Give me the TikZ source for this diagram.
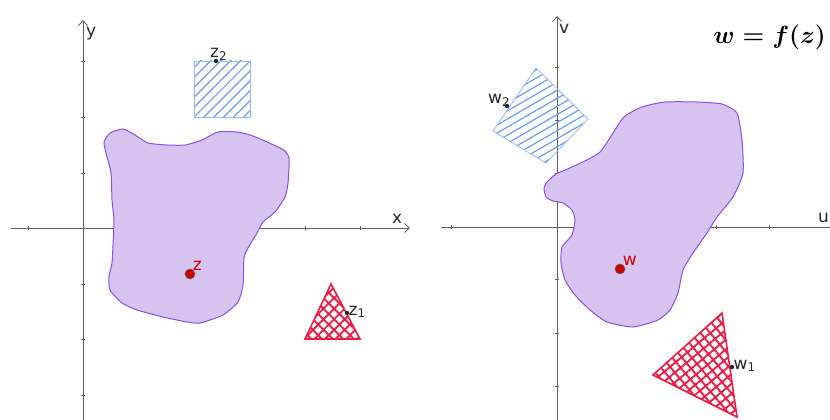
\documentclass[tikz,border=0pt]{standalone}
\usepackage{fontspec}
\usepackage{amsmath}
\setsansfont{DejaVu Sans}
\usetikzlibrary{arrows.meta,patterns.meta,positioning}

\definecolor{axisgray}{RGB}{95,95,95}
\definecolor{blobfill}{RGB}{215,195,240}
\definecolor{blobline}{RGB}{140,80,220}
\definecolor{hatchblue}{RGB}{105,155,240}
\definecolor{hatchred}{RGB}{232,30,70}
\definecolor{ptred}{RGB}{205,0,0}

\newcommand{\bigfont}{\fontsize{23}{27}\selectfont}

\begin{document}
\begin{tikzpicture}[
  x=1pt, y=-1pt,
  axis/.style={draw=axisgray, line width=0.8pt, -{Straight Barb[length=5pt,width=9pt]}},
  tick/.style={draw=axisgray, line width=0.6pt},
  region/.style={fill=blobfill, draw=blobline, line width=1pt},
  blue hatch/.style={draw=hatchblue!70, line width=0.8pt, pattern color=hatchblue,
    pattern={Lines[angle=#1, distance=7pt, line width=1.2pt]}},
  red grid/.style={draw=hatchred, line width=1.6pt, pattern color=hatchred,
    pattern={Hatch[angle=#1, distance=7.5pt, line width=1.9pt]}},
  dot/.style={circle, fill=black!85, inner sep=0pt, minimum size=4.5pt},
  bigdot/.style={circle, fill=ptred, draw=black!60, line width=0.6pt, inner sep=0pt, minimum size=10pt},
  lbl/.style={font=\sffamily\fontsize{17}{19}\selectfont, inner sep=1pt, text=black!85},
  redlbl/.style={lbl, text=ptred},
  titlelbl/.style={font=\bigfont, inner sep=0pt, anchor=east}
]
  \useasboundingbox (0,0) rectangle (830,420);

  % z-plane
  \begin{scope}[shift={(83,228)}]
    \draw[axis] (-72,0) -- (327,0);
    \draw[axis] (0,192) -- (0,-208);
    \foreach \t in {-55,56,111,167,222,277} \draw[tick] (\t,-2) -- (\t,2);
    \foreach \t in {-167,-111,-55,56,111,167} \draw[tick] (-2,\t) -- (2,\t);
    \node[lbl, anchor=west] (xlab) at (308,-9) {x};
    \node[lbl, anchor=west] (ylab) at (2,-194) {y};

    \filldraw[region] plot[smooth cycle, tension=0.35] coordinates {
      (21,-86) (27,-95) (40,-99) (52,-93) (65,-85) (84,-83) (102,-83)
      (119,-88) (135,-96) (154,-96) (170,-92) (199,-79) (206,-70)
      (205,-45) (202,-31) (192,-16) (180,-6) (174,5) (165,20) (161,30)
      (160,57) (155,74) (140,87) (117,95) (104,94) (80,89) (54,82)
      (39,75) (27,62) (26,49) (29,35) (30,17) (31,-8) (29,-28)
      (28,-55) (23,-75)};

    \draw[blue hatch=45] (111,-167) rectangle (167,-111);
    \draw[red grid=45] (248,56) -- (277,111) -- (222,111) -- cycle;

    \node[bigdot] (z) at (107,46) {};
    \node[redlbl, anchor=south west, xshift=-2pt, yshift=-1pt] (zlab) at (z.north east) {z};
    \node[dot] (z2) at (133,-167) {};
    \node[lbl, anchor=south west, xshift=-7pt, yshift=-3pt] (z2lab) at (z2.north) {z\textsubscript{2}};
    \node[dot] (z1) at (264,85) {};
    \node[lbl, anchor=south west, xshift=-2pt, yshift=-6pt] (z1lab) at (z1.east) {z\textsubscript{1}};
  \end{scope}

  % w-plane
  \begin{scope}[shift={(557,227)}]
    \draw[axis] (-116,0) -- (285,0);
    \draw[axis] (0,193) -- (0,-211);
    \foreach \t in {-106,53,106,159,212} \draw[tick] (\t,-2) -- (\t,2);
    \foreach \t in {-160,-107,-54,52,106,159} \draw[tick] (-2,\t) -- (2,\t);
    \node[lbl, anchor=east] (ulab) at (273,-9) {u};
    \node[lbl, anchor=west] (vlab) at (1,-198) {v};

    \filldraw[region] plot[smooth cycle, tension=0.35] coordinates {
      (-10,-45) (-1,-53) (15,-60) (43,-75) (66,-109) (85,-120) (108,-125)
      (140,-125) (165,-123) (180,-114) (185,-87) (186,-54) (176,-30)
      (160,-10) (150,6) (136,26) (126,43) (121,66) (113,83) (101,93)
      (76,100) (50,95) (33,83) (18,68) (8,53) (4,36) (5,20) (15,8)
      (18,-7) (15,-17) (6,-24) (-4,-26) (-11,-30) (-13,-39)};

    \draw[blue hatch=30] (-21,-159) -- (31,-108) -- (-11,-64) -- (-64,-96) -- cycle;
    \draw[red grid=40] (165,86) -- (180,190) -- (96,148) -- cycle;

    \node[bigdot] (w) at (63,42) {};
    \node[redlbl, anchor=south west, xshift=-2pt, yshift=-1pt] (wlab) at (w.north east) {w};
    \node[dot] (w2) at (-50,-121) {};
    \node[lbl, anchor=south east, xshift=6pt, yshift=-3pt] (w2lab) at (w2.north west) {w\textsubscript{2}};
    \node[dot] (w1) at (175,140) {};
    \node[lbl, anchor=south west, xshift=-2pt, yshift=-6pt] (w1lab) at (w1.east) {w\textsubscript{1}};
  \end{scope}

  \node[titlelbl] (title) at (826,37) {$\boldsymbol{w=f(z)}$};
\end{tikzpicture}
\end{document}
